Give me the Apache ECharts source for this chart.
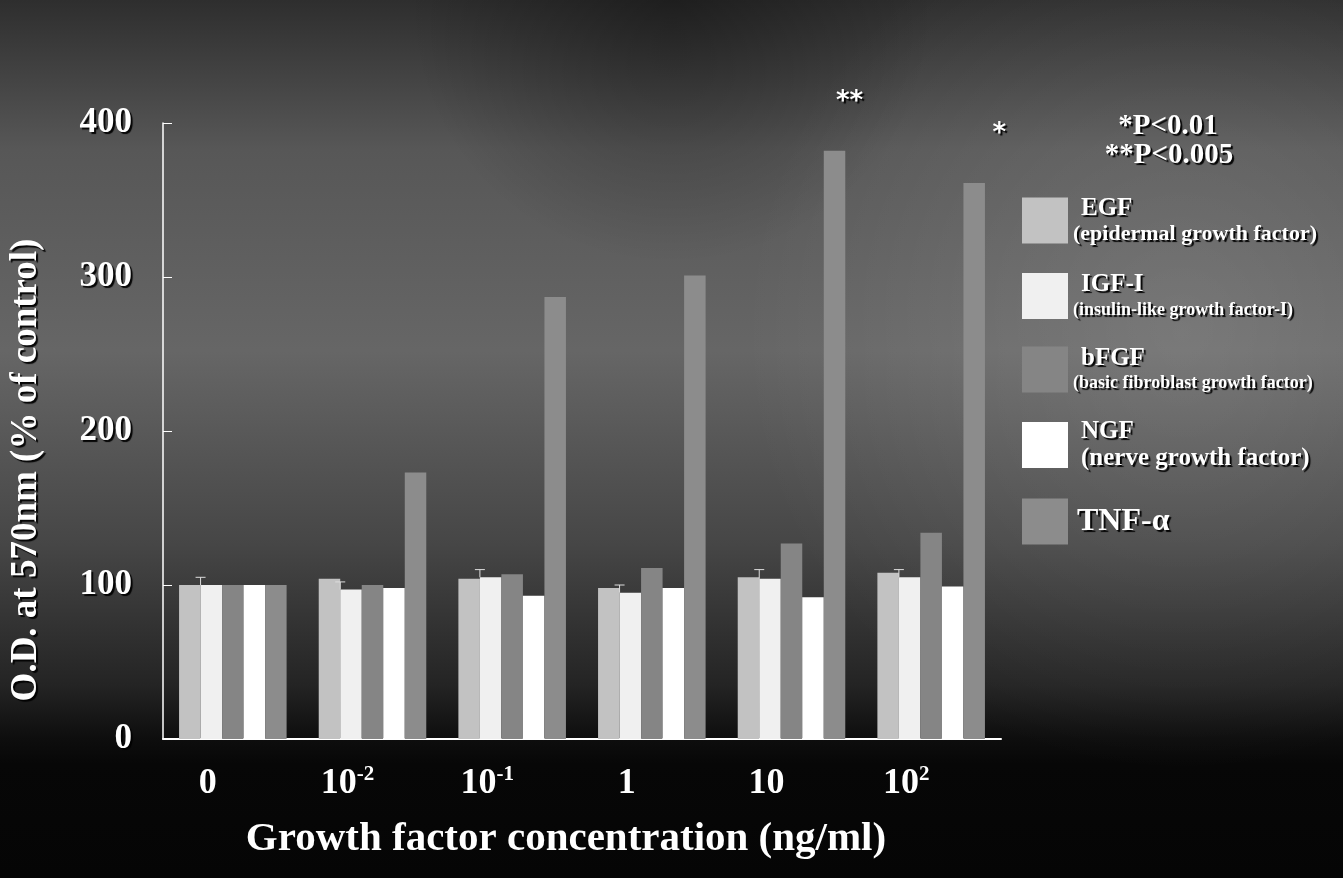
<!DOCTYPE html>
<html><head><meta charset="utf-8">
<script src="https://cdn.jsdelivr.net/npm/echarts@6/dist/echarts.min.js"></script>
<style>html,body{margin:0;padding:0;background:#000}#c{width:1343px;height:878px}</style>
</head><body><div id="c"></div>
<script>
// ---- data ----
const categories = ['0', '10^-2', '10^-1', '1', '10', '10^2'];
const seriesNames = ['EGF', 'IGF-I', 'bFGF', 'NGF', 'TNF-α'];
const seriesDesc = ['(epidermal growth factor)', '(insulin-like growth factor-I)', '(basic fibroblast growth factor)', '(nerve growth factor)', ''];
const egf  = [100, 104, 104, 98, 105, 108];
const igf  = [100, 97, 105, 95, 104, 105];
const igfErr = [5, 5, 5, 5, 6, 5];
const bfgf = [100, 100, 107, 111, 127, 134];
const ngf  = [100, 98, 93, 98, 92, 99];
const tnf  = [100, 173, 287, 301, 382, 361];
const tnfSig = ['', '', '', '', '**', '*'];
const yTicks = [0, 100, 200, 300, 400];
const pNotes = ['*P<0.01', '**P<0.005'];
const yTitle = 'O.D. at 570nm (% of control)';
const xTitle = 'Growth factor concentration (ng/ml)';

// ---- styling ----
const FONT = "'Liberation Serif','Times New Roman',serif";
const colors = ['#c2c2c2', '#f0f0f0', '#858585', '#ffffff', '#8c8c8c'];
const shadow = { textShadowColor: 'rgba(0,0,0,0.95)', textShadowBlur: 1, textShadowOffsetX: 2, textShadowOffsetY: 2 };
const values = [egf, igf, bfgf, ngf, tnf];
const CAT_GAP = 0.23;

const chart = echarts.init(document.getElementById('c'), null, { renderer: 'canvas' });

const barSeries = seriesNames.map((name, i) => {
  const s = {
    name: name, type: 'bar', barGap: '0%', barCategoryGap: (CAT_GAP * 100) + '%',
    itemStyle: { color: colors[i] },
    data: values[i].slice(),
    z: 3
  };
  if (i === 4) {
    const offs = { 4: [15, -30], 5: [25, -31] };
    s.data = values[i].map((v, k) => tnfSig[k] ? {
      value: v,
      label: { show: true, position: 'top', formatter: tnfSig[k], offset: offs[k],
        color: '#fff', fontFamily: 'DejaVu Sans', fontWeight: 'bold', fontSize: 26, ...shadow }
    } : v);
  }
  return s;
});

const errSeries = {
  type: 'custom', name: 'igfErr', z: 4, silent: true,
  data: igf.map((v, k) => [k, v, v + igfErr[k]]),
  renderItem: function (params, api) {
    const band = api.size([1, 0])[0];
    const bw = band * (1 - CAT_GAP) / 5;
    const c = api.coord([api.value(0), api.value(1)]);
    const t = api.coord([api.value(0), api.value(2)]);
    const x = c[0] - 1.5 * bw;
    return { type: 'group', children: [
      { type: 'line', shape: { x1: x, y1: c[1], x2: x, y2: t[1] }, style: { stroke: '#ddd', lineWidth: 1 } },
      { type: 'line', shape: { x1: x - 5, y1: t[1], x2: x + 5, y2: t[1] }, style: { stroke: '#ddd', lineWidth: 1 } }
    ] };
  }
};

const legendRich = {
  n: { fontFamily: FONT, fontWeight: 'bold', fontSize: 25, color: '#fff', lineHeight: 28, padding: [0, 0, 0, 8], ...shadow },
  d0: { fontFamily: FONT, fontWeight: 'bold', fontSize: 22, color: '#fff', lineHeight: 24, ...shadow },
  d1: { fontFamily: FONT, fontWeight: 'bold', fontSize: 18, color: '#fff', lineHeight: 22, ...shadow },
  d2: { fontFamily: FONT, fontWeight: 'bold', fontSize: 18, color: '#fff', lineHeight: 22, ...shadow },
  d3: { fontFamily: FONT, fontWeight: 'bold', fontSize: 25, color: '#fff', lineHeight: 26, padding: [0, 0, 0, 8], ...shadow },
  t: { fontFamily: FONT, fontWeight: 'bold', fontSize: 32, color: '#fff', lineHeight: 34, padding: [0, 0, 0, 4], ...shadow }
};

const option = {
  animation: false,
  backgroundColor: {
    type: 'linear', x: 0, y: 0, x2: 0, y2: 1,
    colorStops: [
      { offset: 0, color: '#2e2e2e' }, { offset: 0.17, color: '#575757' },
      { offset: 0.4, color: '#666666' }, { offset: 0.62, color: '#464646' },
      { offset: 0.78, color: '#242424' }, { offset: 0.84, color: '#0e0e0e' },
      { offset: 0.87, color: '#070707' }, { offset: 1, color: '#050505' }
    ]
  },
  graphic: [
    { type: 'rect', z: -10, silent: true, shape: { x: 0, y: 0, width: 1343, height: 878 },
      style: { fill: { type: 'radial', x: 0.88, y: 0.38, r: 0.5, colorStops: [
        { offset: 0, color: 'rgba(255,255,255,0.13)' }, { offset: 1, color: 'rgba(255,255,255,0)' } ] } } },
    { type: 'rect', z: -10, silent: true, shape: { x: 0, y: 0, width: 1343, height: 878 },
      style: { fill: { type: 'radial', x: 0.5, y: 0, r: 0.3, colorStops: [
        { offset: 0, color: 'rgba(0,0,0,0.35)' }, { offset: 1, color: 'rgba(0,0,0,0)' } ] } } },
    { type: 'text', z: 10, x: 1168, y: 127, silent: true,
      style: { text: pNotes[0], align: 'center', verticalAlign: 'middle', fontFamily: FONT, fontWeight: 'bold', fontSize: 29, fill: '#fff', ...shadow } },
    { type: 'text', z: 10, x: 1169, y: 156, silent: true,
      style: { text: pNotes[1], align: 'center', verticalAlign: 'middle', fontFamily: FONT, fontWeight: 'bold', fontSize: 29, fill: '#fff', ...shadow } }
  ],
  grid: { left: 161, right: 342, top: 123, bottom: 139, containLabel: false },
  legend: {
    orient: 'vertical', left: 1022, top: 196, padding: 0, itemWidth: 46, itemHeight: 46, itemGap: 27,
    icon: 'rect', selectedMode: false,
    data: seriesNames,
    formatter: function (name) {
      const i = seriesNames.indexOf(name);
      if (!seriesDesc[i]) return '{t|' + name + '}';
      return '{n|' + name + '}\n{d' + i + '|' + seriesDesc[i] + '}';
    },
    textStyle: { rich: legendRich, color: '#fff' }
  },
  xAxis: {
    type: 'category', data: categories,
    axisLine: { lineStyle: { color: '#fff', width: 2 } },
    axisTick: { show: false },
    axisLabel: {
      margin: 25, padding: [0, 50, 0, 0],
      formatter: function (v) {
        const p = v.split('^');
        return p.length > 1 ? '{b|' + p[0] + '}{s|' + p[1] + '}' : '{b|' + v + '}';
      },
      rich: {
        b: { fontFamily: FONT, fontWeight: 'bold', fontSize: 36, color: '#fff', lineHeight: 40 },
        s: { fontFamily: FONT, fontWeight: 'bold', fontSize: 21, color: '#fff', verticalAlign: 'top', lineHeight: 40, padding: [0, 0, 14, 0] }
      }
    },
    name: xTitle, nameLocation: 'middle', nameGap: 80,
    nameTextStyle: { fontFamily: FONT, fontWeight: 'bold', fontSize: 41, color: '#fff', padding: [0, 32, 0, 0] }
  },
  yAxis: {
    type: 'value', min: 0, max: 400, interval: 100,
    axisLine: { show: true, lineStyle: { color: '#fff', width: 1.5 } },
    axisTick: { show: true, inside: true, length: 9, lineStyle: { color: '#fff' } },
    splitLine: { show: false },
    axisLabel: { margin: 31, fontFamily: FONT, fontWeight: 'bold', fontSize: 35, color: '#fff', ...shadow,
      formatter: function (v) { return yTicks.indexOf(v) >= 0 ? String(v) : ''; } },
    name: yTitle, nameLocation: 'middle', nameGap: 118, nameRotate: 90,
    nameTextStyle: { fontFamily: FONT, fontWeight: 'bold', fontSize: 37, color: '#fff', padding: [0, 78, 0, 0], ...shadow }
  },
  series: barSeries.concat([errSeries])
};
chart.setOption(option);
</script></body></html>
